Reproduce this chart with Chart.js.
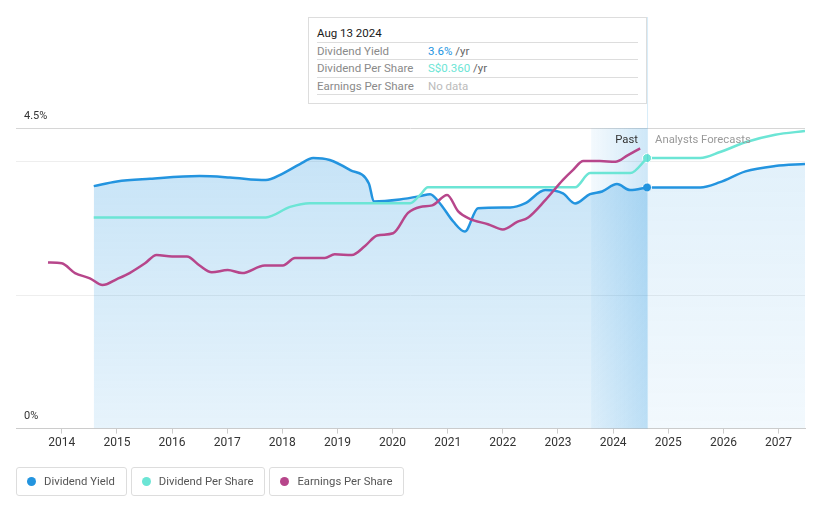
<!DOCTYPE html>
<html>
<head>
<meta charset="utf-8">
<script src="https://cdn.jsdelivr.net/npm/chart.js@4.4.0/dist/chart.umd.min.js"></script>
<style>
  html, body { margin: 0; padding: 0; background: #fff; font-family: Roboto, "Noto Sans", sans-serif; }
  #wrap { position: relative; width: 821px; height: 508px; overflow: hidden; }
  #wrap canvas { position: absolute; left: 0; top: 0; }
  .tip { position: absolute; left: 308px; top: 17px; width: 321px; height: 85px; padding: 0 8px; background: #fff; border: 1px solid #ddd; font-size: 11.5px; }
  .tip .title { color: #1a1a1a; font-weight: 400; height: 24px; line-height: 30px; border-bottom: 1px solid #ddd; }
  .tip .row { height: 16.4px; line-height: 17px; border-bottom: 1px solid #ddd; color: #8a8a8a; position: relative; }
  .tip .row span.v { position: absolute; left: 111px; }
  .legend { position: absolute; top: 467px; left: 16px; display: flex; gap: 4px; }
  .legend .item { height: 27px; line-height: 27px; border: 1px solid #ddd; border-radius: 3px; padding: 0 11px 0 27px; position: relative; color: #555; font-size: 11.3px; }
  .legend .dot { position: absolute; left: 10px; top: 9px; width: 9px; height: 9px; border-radius: 50%; }
</style>
</head>
<body>
<div id="wrap">
  <canvas id="chart" width="821" height="508"></canvas>
  <div class="tip">
    <div class="title">Aug 13 2024</div>
    <div class="row">Dividend Yield<span class="v"><span style="color:#2394df">3.6%</span> <span style="color:#666">/yr</span></span></div>
    <div class="row">Dividend Per Share<span class="v"><span style="color:#6ce5d5">S$0.360</span> <span style="color:#666">/yr</span></span></div>
    <div class="row">Earnings Per Share<span class="v" style="color:#bbb">No data</span></div>
  </div>
  <div class="legend">
    <div class="item"><span class="dot" style="background:#2394df"></span>Dividend Yield</div>
    <div class="item"><span class="dot" style="background:#6ce5d5"></span>Dividend Per Share</div>
    <div class="item"><span class="dot" style="background:#b7468b"></span>Earnings Per Share</div>
  </div>
</div>
<script>
// ── data (x = decimal year) ──
const yearTicks = [2014, 2015, 2016, 2017, 2018, 2019, 2020, 2021, 2022, 2023, 2024, 2025, 2026, 2027];

const yieldYears = [2014.58, 2015.0, 2015.6, 2016.5, 2017.05, 2017.7, 2017.99, 2018.32, 2018.56, 2018.86, 2019.23, 2019.57, 2019.66, 2020.13, 2020.5, 2020.68, 2020.86, 2021.1, 2021.31, 2021.55, 2022.13, 2022.4, 2022.77, 2023.09, 2023.31, 2023.58, 2023.8, 2024.07, 2024.31, 2024.615];
const yieldValues = [3.63, 3.70, 3.74, 3.78, 3.76, 3.72, 3.81, 3.96, 4.05, 4.02, 3.87, 3.67, 3.40, 3.43, 3.48, 3.51, 3.37, 3.10, 2.95, 3.30, 3.31, 3.37, 3.57, 3.52, 3.37, 3.51, 3.55, 3.66, 3.57, 3.61];

const yieldFcYears = [2024.615, 2025.58, 2025.94, 2026.4, 2026.94, 2027.48];
const yieldFcValues = [3.61, 3.61, 3.69, 3.85, 3.93, 3.96];

const dpsYears = [2014.58, 2017.7, 2018.14, 2018.5, 2020.32, 2020.5, 2020.64, 2023.31, 2023.58, 2024.31, 2024.615];
const dpsValues = [0.281, 0.281, 0.295, 0.30, 0.30, 0.311, 0.321, 0.321, 0.34, 0.34, 0.36];

const dpsFcYears = [2024.615, 2025.58, 2025.94, 2026.4, 2026.94, 2027.48];
const dpsFcValues = [0.36, 0.36, 0.368, 0.381, 0.391, 0.396];

const epsYears = [2013.75, 2014.0, 2014.24, 2014.51, 2014.74, 2015.0, 2015.23, 2015.51, 2015.72, 2016.0, 2016.27, 2016.5, 2016.72, 2017.01, 2017.27, 2017.68, 2018.01, 2018.23, 2018.77, 2018.95, 2019.26, 2019.5, 2019.72, 2020.01, 2020.28, 2020.5, 2020.72, 2020.99, 2021.19, 2021.4, 2021.73, 2022.0, 2022.26, 2022.46, 2022.77, 2023.09, 2023.27, 2023.46, 2023.76, 2024.04, 2024.27, 2024.49];
const epsValues = [0.221, 0.220, 0.207, 0.200, 0.191, 0.199, 0.207, 0.220, 0.231, 0.229, 0.229, 0.217, 0.208, 0.211, 0.207, 0.217, 0.217, 0.227, 0.227, 0.232, 0.231, 0.243, 0.257, 0.260, 0.287, 0.295, 0.297, 0.311, 0.289, 0.279, 0.272, 0.265, 0.275, 0.281, 0.304, 0.331, 0.344, 0.356, 0.356, 0.355, 0.364, 0.373];

const nowYear = 2024.615;
const pastBandStart = 2023.6;

const BLUE = '#2394df', TEAL = '#6ce5d5', PURPLE = '#b7468b';

const pts = (xs, ys) => xs.map((x, i) => ({ x, y: ys[i] }));

function vGrad(ctx, area, a1, a2) {
  const g = ctx.createLinearGradient(0, area.top, 0, area.bottom);
  g.addColorStop(0, `rgba(35,148,223,${a1})`);
  g.addColorStop(1, `rgba(35,148,223,${a2})`);
  return g;
}

// ── extras: past band, labels, hover line ──
const extras = {
  id: 'extras',
  beforeDatasetsDraw(chart) {
    const { ctx, chartArea: a, scales: { x } } = chart;
    const x0 = x.getPixelForValue(pastBandStart), x1 = x.getPixelForValue(nowYear);
    const g = ctx.createLinearGradient(x0, 0, x1, 0);
    g.addColorStop(0, 'rgba(35,148,223,0.05)');
    g.addColorStop(1, 'rgba(35,148,223,0.22)');
    ctx.save();
    ctx.fillStyle = g;
    ctx.fillRect(x0, a.top, x1 - x0, a.bottom - a.top);
    ctx.restore();
  },
  afterDraw(chart) {
    const { ctx, chartArea: a, scales: { x, y } } = chart;
    const xn = x.getPixelForValue(nowYear);
    ctx.save();
    ctx.strokeStyle = 'rgba(35,148,223,0.18)';
    ctx.lineWidth = 1;
    ctx.beginPath();
    ctx.moveTo(xn + 0.5, 17);
    ctx.lineTo(xn + 0.5, a.bottom);
    ctx.stroke();

    ctx.font = '11px Roboto';
    ctx.fillStyle = '#333';
    ctx.textBaseline = 'middle';
    ctx.textAlign = 'left';
    ctx.fillText('4.5%', 24, y.getPixelForValue(4.5) - 12);
    ctx.fillText('0%', 24, y.getPixelForValue(0) - 12);

    ctx.font = '11.3px Roboto';
    ctx.textAlign = 'right';
    ctx.fillStyle = '#333';
    ctx.fillText('Past', xn - 9, a.top + 12);
    ctx.textAlign = 'left';
    ctx.fillStyle = '#999';
    ctx.fillText('Analysts Forecasts', xn + 8, a.top + 12);
    ctx.restore();
  }
};

const lastDot = (n) => (c) => (c.dataIndex === n ? 4.5 : 0);

new Chart(document.getElementById('chart'), {
  type: 'line',
  data: {
    datasets: [
      { label: 'Earnings Per Share', data: pts(epsYears, epsValues), yAxisID: 'yAmt',
        borderColor: PURPLE, borderWidth: 2.5, pointRadius: 0, fill: false },
      { label: 'Dividend Per Share', data: pts(dpsYears, dpsValues), yAxisID: 'yAmt',
        borderColor: TEAL, borderWidth: 2.5, pointRadius: 0, fill: false },
      { label: 'DPS forecast', data: pts(dpsFcYears, dpsFcValues), yAxisID: 'yAmt',
        borderColor: TEAL, borderWidth: 2.5, pointRadius: lastDot(0), pointBackgroundColor: TEAL,
        pointBorderColor: '#fff', pointBorderWidth: 1, fill: false },
      { label: 'Dividend Yield', data: pts(yieldYears, yieldValues), yAxisID: 'y',
        borderColor: BLUE, borderWidth: 2.5, pointRadius: 0, fill: 'origin',
        backgroundColor: c => c.chart.chartArea ? vGrad(c.chart.ctx, c.chart.chartArea, 0.27, 0.11) : 'rgba(35,148,223,0.2)' },
      { label: 'Yield forecast', data: pts(yieldFcYears, yieldFcValues), yAxisID: 'y',
        borderColor: BLUE, borderWidth: 2.5, pointRadius: lastDot(0), pointBackgroundColor: BLUE,
        pointBorderColor: '#fff', pointBorderWidth: 1, fill: 'origin',
        backgroundColor: c => c.chart.chartArea ? vGrad(c.chart.ctx, c.chart.chartArea, 0.14, 0.06) : 'rgba(35,148,223,0.1)' }
    ]
  },
  options: {
    responsive: false,
    animation: false,
    cubicInterpolationMode: 'monotone',
    layout: { padding: { left: 16, right: 16, top: 128, bottom: 56 } },
    plugins: { legend: { display: false }, tooltip: { enabled: false } },
    scales: {
      x: {
        type: 'linear', min: 2013.17, max: 2027.48,
        afterBuildTicks: s => { s.ticks = yearTicks.map(v => ({ value: v })); },
        ticks: { color: '#333', font: { family: 'Roboto', size: 12 }, padding: 2, maxRotation: 0, callback: v => String(v) },
        grid: { drawOnChartArea: false, drawTicks: true, tickLength: 5, color: '#ccc' },
        border: { color: '#ccc' }
      },
      y: {
        min: 0, max: 4.5,
        afterBuildTicks: s => { s.ticks = [0, 2, 4, 4.5].map(v => ({ value: v })); },
        ticks: { display: false },
        grid: { drawTicks: false, color: c => (c.tick.value === 4 || c.tick.value === 2) ? '#eeeeee' : '#d6d6d6' },
        border: { display: false }
      },
      yAmt: { min: 0, max: 0.4, display: false }
    }
  },
  plugins: [extras]
});
</script>
</body>
</html>
